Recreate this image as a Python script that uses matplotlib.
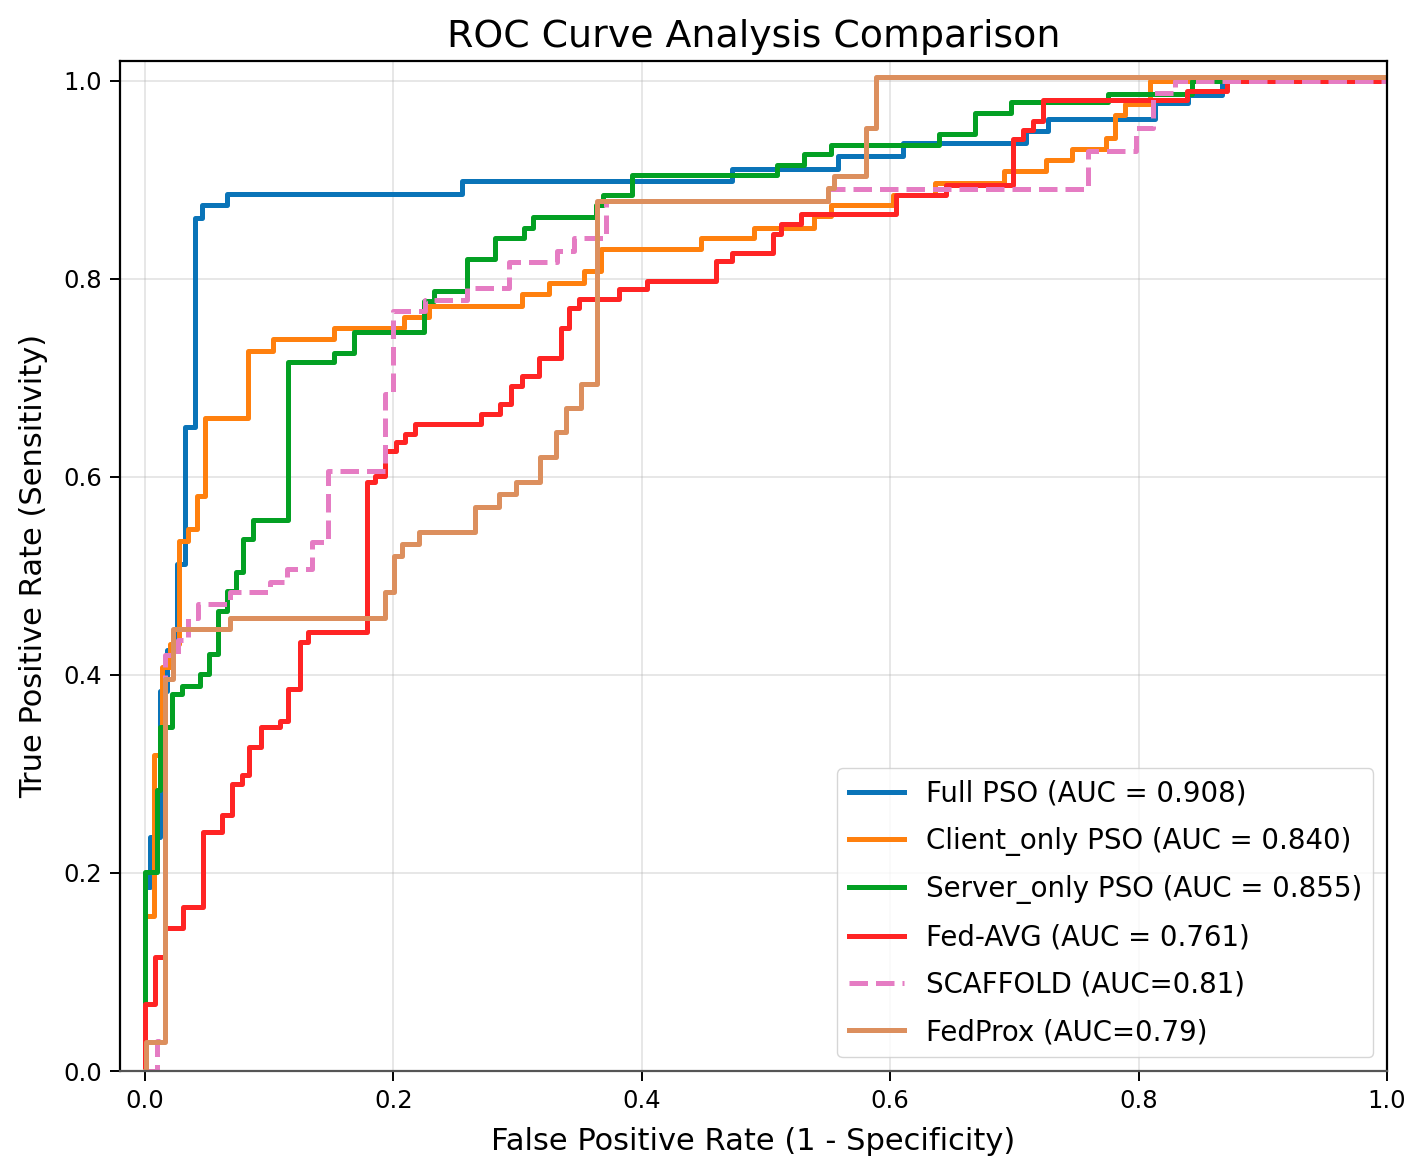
import matplotlib
matplotlib.use('Agg')
import matplotlib.pyplot as plt

# ROC step points (fpr where tpr jumps, tpr level after the jump)
full_fpr = [0, 0, 0.004, 0.012, 0.018, 0.0255, 0.032, 0.040, 0.046, 0.066, 0.255, 0.473,
            0.558, 0.610, 0.709, 0.727, 0.813, 0.840, 0.867, 1.0]
full_tpr = [0, 0.186, 0.236, 0.384, 0.425, 0.512, 0.650, 0.862, 0.875, 0.886, 0.899, 0.911,
            0.924, 0.937, 0.949, 0.962, 0.978, 0.986, 1.0, 1.0]

client_fpr = [0, 0, 0.007, 0.0134, 0.0202, 0.0277, 0.035, 0.0417, 0.0484, 0.083, 0.1035, 0.152,
              0.2083, 0.2285, 0.3037, 0.325, 0.3535, 0.367, 0.4476, 0.4906, 0.539, 0.5524, 0.602,
              0.6357, 0.692, 0.7258, 0.746, 0.774, 0.781, 0.789, 0.809, 1.0]
client_tpr = [0, 0.157, 0.319, 0.4085, 0.431, 0.5355, 0.547, 0.581, 0.660, 0.727, 0.739, 0.750,
              0.7615, 0.7726, 0.7843, 0.7954, 0.808, 0.830, 0.841, 0.8516, 0.8633, 0.875, 0.885,
              0.897, 0.9087, 0.920, 0.9316, 0.9423, 0.966, 0.9766, 1.0, 1.0]

server_fpr = [0, 0, 0.0094, 0.012, 0.0215, 0.0296, 0.0444, 0.052, 0.059, 0.0659, 0.0734, 0.0793,
              0.0874, 0.1156, 0.152, 0.168, 0.225, 0.2325, 0.259, 0.282, 0.305, 0.3124, 0.363,
              0.369, 0.3925, 0.509, 0.531, 0.552, 0.6396, 0.668, 0.6976, 0.775, 0.843, 1.0]
server_tpr = [0, 0.201, 0.2834, 0.347, 0.381, 0.389, 0.401, 0.4213, 0.4643, 0.4845, 0.5036, 0.537,
              0.557, 0.7164, 0.7255, 0.7463, 0.7776, 0.7877, 0.8197, 0.841, 0.8516, 0.8623, 0.8744,
              0.8845, 0.9054, 0.9155, 0.926, 0.9356, 0.9464, 0.9675, 0.9786, 0.987, 1.0, 1.0]

fedavg_fpr = [0, 0, 0.008, 0.016, 0.031, 0.047, 0.0618, 0.0705, 0.078, 0.0839, 0.0933, 0.1089,
              0.1156, 0.125, 0.1317, 0.1788, 0.185, 0.1935, 0.2024, 0.2097, 0.2177, 0.2705, 0.2863,
              0.2944, 0.3037, 0.317, 0.3347, 0.3414, 0.3495, 0.3817, 0.4046, 0.4597, 0.473, 0.5054,
              0.5121, 0.528, 0.6048, 0.645, 0.699, 0.707, 0.715, 0.723, 0.8387, 0.871, 1.0]
fedavg_tpr = [0, 0.068, 0.115, 0.144, 0.1657, 0.2414, 0.259, 0.29, 0.2985, 0.327, 0.347, 0.354,
              0.386, 0.433, 0.443, 0.5944, 0.601, 0.626, 0.635, 0.643, 0.653, 0.664, 0.674,
              0.692, 0.702, 0.7204, 0.7507, 0.771, 0.7793, 0.7894, 0.7978, 0.818, 0.8263, 0.845,
              0.855, 0.866, 0.885, 0.8946, 0.9413, 0.9506, 0.9597, 0.981, 0.99, 1.0, 1.0]

scaffold_fpr = [0, 0.0094, 0.016, 0.027, 0.035, 0.043, 0.0685, 0.1008, 0.1142, 0.1344, 0.1478,
                0.1935, 0.200, 0.2258, 0.2594, 0.293, 0.332, 0.3454, 0.371, 0.550, 0.759, 0.798,
                0.812, 0.829, 1.0]
scaffold_tpr = [0, 0.03, 0.42, 0.435, 0.458, 0.4717, 0.4834, 0.4935, 0.507, 0.5338, 0.606,
                0.6835, 0.7675, 0.779, 0.791, 0.817, 0.8287, 0.8415, 0.8785, 0.891, 0.9289, 0.9524,
                0.9877, 1.0, 1.0]

fedprox_fpr = [0, 0.0013, 0.016, 0.0223, 0.0685, 0.1935, 0.2003, 0.207, 0.2204, 0.266, 0.2849,
               0.299, 0.318, 0.331, 0.3387, 0.3508, 0.3643, 0.5497, 0.555, 0.5806, 0.5887, 1.0]
fedprox_tpr = [0, 0.0296, 0.396, 0.4465, 0.458, 0.4834, 0.5204, 0.532, 0.5446, 0.5698, 0.5826,
               0.595, 0.62, 0.645, 0.67, 0.6936, 0.8785, 0.892, 0.9037, 0.9524, 1.004, 1.004]

labels = ['Full PSO (AUC = 0.908)', 'Client_only PSO (AUC = 0.840)',
          'Server_only PSO (AUC = 0.855)', 'Fed-AVG (AUC = 0.761)',
          'SCAFFOLD (AUC=0.81)', 'FedProx (AUC=0.79)']
colors = ['#0a74b8', '#ff800e', '#03a023', '#ff2424', '#e57cc3', '#dc8f5e']

plt.rcParams['font.family'] = ['DejaVu Sans']

fig = plt.figure(figsize=(14.22, 11.75), dpi=100)
ax = fig.add_axes([0.0844, 0.0885, 0.8910, 0.8595])

lw = 3.6
ax.plot(full_fpr, full_tpr, drawstyle='steps-post', color=colors[0], lw=lw, label=labels[0])
ax.plot(client_fpr, client_tpr, drawstyle='steps-post', color=colors[1], lw=lw, label=labels[1])
ax.plot(server_fpr, server_tpr, drawstyle='steps-post', color=colors[2], lw=lw, label=labels[2])
ax.plot(fedavg_fpr, fedavg_tpr, drawstyle='steps-post', color=colors[3], lw=lw, label=labels[3])
ax.plot(scaffold_fpr, scaffold_tpr, drawstyle='steps-post', color=colors[4], lw=lw, ls='--',
        label=labels[4])
ax.plot(fedprox_fpr, fedprox_tpr, drawstyle='steps-post', color=colors[5], lw=lw, label=labels[5])

ax.legend(loc='lower right', fontsize=19.9, labelspacing=0.7, framealpha=0.8,
          edgecolor='#cccccc')

ax.set_xlim(-0.02, 1.0)
ax.set_ylim(0.0, 1.02)
ax.set_xticks([0.0, 0.2, 0.4, 0.6, 0.8, 1.0])
ax.set_yticks([0.0, 0.2, 0.4, 0.6, 0.8, 1.0])
ax.tick_params(labelsize=17.5, length=7, width=1.4, pad=6)
ax.grid(True, alpha=0.3, lw=1.4)
for s in ax.spines.values():
    s.set_linewidth(1.6)
ax.spines['bottom'].set_color('#555555')

ax.set_xlabel('False Positive Rate (1 - Specificity)', fontsize=22, labelpad=10)
ax.set_ylabel('True Positive Rate (Sensitivity)', fontsize=22, labelpad=11)
ax.set_title('ROC Curve Analysis Comparison', fontsize=27.3, pad=10)

fig.savefig('out.png', dpi=100)
